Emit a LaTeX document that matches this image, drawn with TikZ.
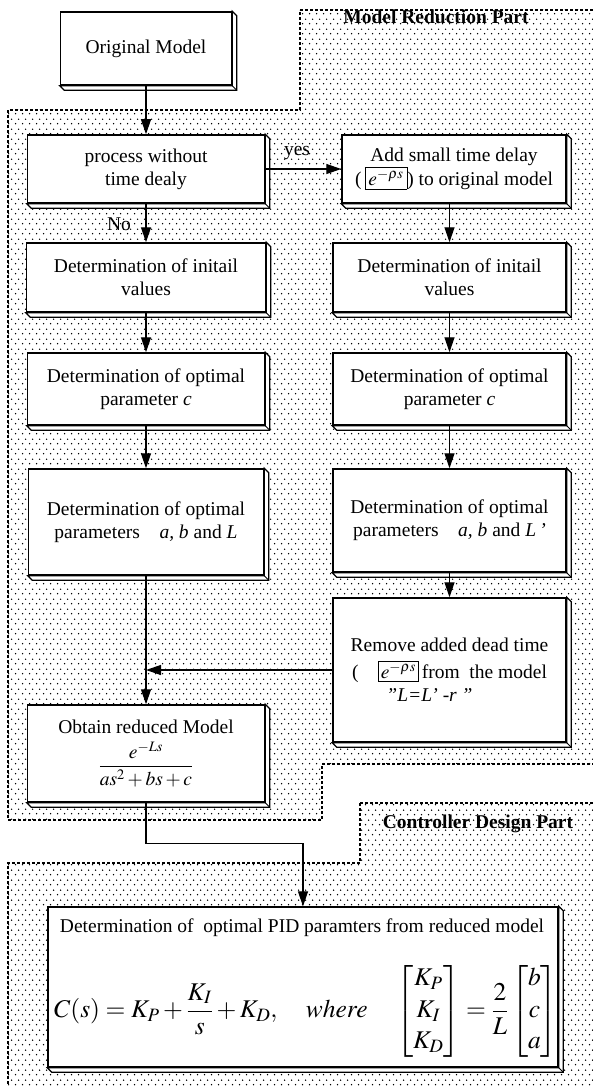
\documentclass[tikz,border=0pt]{standalone}
\usepackage{amsmath}
\usepackage{mathptmx}
\usepackage[no-math]{fontspec}
\setmainfont{Liberation Serif}
\usetikzlibrary{patterns,arrows.meta,calc}
\pgfdeclarepatternformonly{sdots}{\pgfpoint{0pt}{0pt}}{\pgfpoint{7pt}{10pt}}{\pgfpoint{7pt}{10pt}}{%
  \pgfpathcircle{\pgfpoint{1.75pt}{2.5pt}}{0.85pt}\pgfusepath{fill}%
  \pgfpathcircle{\pgfpoint{5.25pt}{7.5pt}}{0.85pt}\pgfusepath{fill}}
\newcommand\boxshade[1]{%
  \draw[line width=1.1pt,fill=white] (#1.north east) -- ++(4.5,4.5) -- ($(#1.south east)+(4.5,4.5)$) -- ($(#1.south west)+(4.5,4.5)$) -- (#1.south west) -- (#1.south east) -- cycle;
  \draw[line width=0.8pt] (#1.south east) -- ++(4.5,4.5);}
\begin{document}
\begin{tikzpicture}[x=1pt,y=-1pt,
  box/.style={draw,line width=1.5pt,fill=white,inner sep=0pt,align=center,font=\fontsize{19.5}{23}\selectfont},
  arr/.style={line width=1.3pt,-{Triangle[length=15pt,width=10pt]}},
  region/.style={pattern=sdots,pattern color=black,draw,line width=1.2pt,dash pattern=on 3pt off 2pt},
  lbl/.style={inner sep=0pt,font=\fontsize{19.5}{23}\selectfont\bfseries},
  txt/.style={inner sep=0pt,font=\fontsize{19.5}{23}\selectfont}]
\useasboundingbox (0,0) rectangle (592,1086);
\fill[white] (0,0) rectangle (592,1086);
% regions
\path[region] (300,10) -- (598,10) -- (598,764) -- (322,764) -- (322,820) -- (8,820) -- (8,110) -- (300,110) -- cycle;
\path[region] (360,803) -- (598,803) -- (598,1092) -- (8,1092) -- (8,863) -- (360,863) -- cycle;
\node[lbl,anchor=base] (mrp) at (436,24) {Model Reduction Part};
\node[lbl,anchor=base] (cdp) at (478,828) {Controller Design Part};
% left column
\node[box,minimum width=171pt,minimum height=73pt] (orig) at (146,48.5) {Original Model};
\node[box,minimum width=237pt,minimum height=68pt] (proc) at (146,169) {process without\\time dealy};
\node[box,minimum width=239pt,minimum height=69pt] (initL) at (146,277.5) {Determination of initail\\values};
\node[box,minimum width=237pt,minimum height=72pt] (cL) at (146,389) {Determination of optimal\\parameter \textit{c}};
\node[box,minimum width=235pt,minimum height=106pt] (abLL) at (146,522) {Determination of optimal\\parameters\quad\textit{a, b} and \textit{L}};
\node[box,minimum width=237pt,minimum height=97pt] (obtain) at (146,753.5) {Obtain reduced Model\\[7pt]$\dfrac{e^{-Ls}}{as^2+bs+c}$};
% right column
\node[box,minimum width=224pt,minimum height=68pt] (add) at (454,169) {Add small time delay\\(\,{\fboxsep=3pt\fboxrule=0.7pt\fbox{$e^{-\rho s}$}}) to original model};
\node[box,minimum width=233pt,minimum height=69pt] (initR) at (449.5,277.5) {Determination of initail\\values};
\node[box,minimum width=233pt,minimum height=72pt] (cR) at (449.5,389) {Determination of optimal\\parameter \textit{c}};
\node[box,minimum width=233pt,minimum height=103pt] (abLR) at (449.5,520.5) {Determination of optimal\\parameters\quad\textit{a, b} and \textit{L\,'}};
\node[box,minimum width=233pt,minimum height=144pt] (remove) at (449.5,670) {Remove added dead time\\[4pt](\quad{\fboxsep=2pt\fboxrule=0.7pt\fbox{$e^{-\rho s}$}}\,from\ \ the model\\\textit{"L=L' -r "}\hspace*{40pt}};
% PID box
\node[box,minimum width=510pt,minimum height=160pt] (pid) at (303,987) {};
\node[txt,anchor=base] (pidt) at (302,932) {Determination of\ \ optimal PID paramters from reduced model};
\node[txt,font=\fontsize{25.5}{30}\selectfont] (eq) at (306,1011) {\renewcommand{\arraystretch}{1.05}$C(s)=K_P+\dfrac{K_I}{s}+K_D,\quad where\quad \begin{bmatrix}K_P\\ K_I\\ K_D\end{bmatrix}=\dfrac{2}{L}\begin{bmatrix}b\\ c\\ a\end{bmatrix}$};
% shadows
\foreach \b in {orig,proc,initL,cL,abLL,obtain,add,initR,cR,abLR,remove,pid} {\boxshade{\b}}
% labels
\node[txt,anchor=base] (yes) at (297,156) {yes};
\node[txt,anchor=base] (no) at (119,230) {No};
% connectors
\draw[arr] (orig.south) -- (orig.south |- proc.north);
\draw[arr] (proc.east) -- (add.west);
\draw[arr] (proc.south) -- (proc.south |- initL.north);
\draw[arr] (initL.south) -- (initL.south |- cL.north);
\draw[arr] (cL.south) -- (cL.south |- abLL.north);
\draw[arr] (abLL.south) -- (abLL.south |- obtain.north);
\draw[arr] (add.south -| initR.north) -- (initR.north);
\draw[arr] (initR.south) -- (cR.north);
\draw[arr] (cR.south) -- (abLR.north);
\draw[arr] (abLR.south) -- (remove.north);
\coordinate (join) at (abLL.south |- remove.west);
\draw[arr] (remove.west) -- (join);
\draw[arr] (obtain.south) -- ++(0,41) -| (pid.north);
\end{tikzpicture}
\end{document}
